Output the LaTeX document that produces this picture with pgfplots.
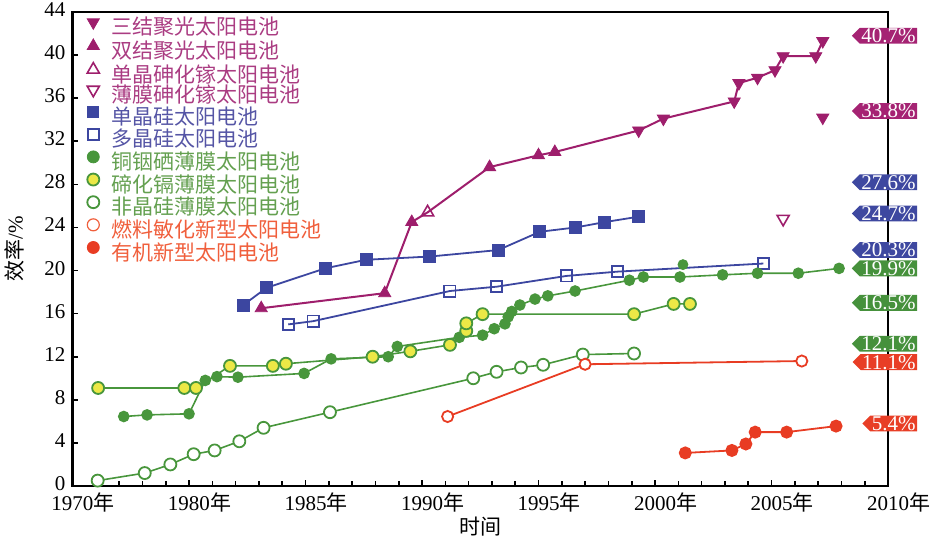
\documentclass[border=0pt]{standalone}
\usepackage{pgfplots}
\pgfplotsset{compat=1.18}
\usepackage{fontspec}
\setmainfont{Liberation Serif}
\newfontfamily\cjk{Noto Sans CJK SC}
\usetikzlibrary{shapes.symbols}

\definecolor{pur}{RGB}{158,30,108}
\definecolor{blu}{RGB}{60,70,160}
\definecolor{grn}{RGB}{72,150,60}
\definecolor{yel}{RGB}{236,232,70}
\definecolor{red1}{RGB}{232,60,35}
\definecolor{cpur}{RGB}{165,35,115}
\definecolor{cblu}{RGB}{62,72,160}
\definecolor{cgrn}{RGB}{70,145,60}
\definecolor{cred}{RGB}{232,62,38}
\definecolor{lpur}{RGB}{170,60,130}
\definecolor{lblu}{RGB}{85,85,165}
\definecolor{lgrn}{RGB}{100,160,80}
\definecolor{lred}{RGB}{240,95,60}

\newcommand{\nian}{\rlap{\cjk 年}}

\pgfplotsset{
  lgmark/.style={legend image code/.code={\path (0pt,0pt) (18pt,0pt); \draw[##1] plot coordinates {(10pt,3.6pt)};}},
}
\tikzset{
  mycall/.style={signal, signal to=west, signal from=nowhere, text=white, inner xsep=0.8pt, inner ysep=0.3pt, text height=7.1pt, text depth=0.2pt, font=\fontsize{10.5}{12}\selectfont, anchor=east},
}

\begin{document}
\begin{tikzpicture}[font=\fontsize{10.5}{12}\selectfont]
\begin{axis}[
  scale only axis, width=407.75pt, height=237pt,
  xmin=1975, xmax=2010, ymin=0, ymax=44,
  xtick={1975,1980,...,2010},
  xticklabels={1970\nian,1980\nian,1985\nian,1990\nian,1995\nian,2000\nian,2005\nian,2010\nian},
  minor x tick num=4,
  ytick={0,4,...,44},
  xtick pos=bottom, ytick pos=left,
  tick align=inside,
  major tick length=3pt, minor tick length=2.5pt,
  axis line style={line width=1.1pt},
  every tick/.style={black, line width=0.8pt},
  /pgf/number format/assume math mode=true,
  tick label style={font=\fontsize{10.5}{12}\selectfont},
  yticklabel style={yshift=1.2pt},
  xlabel={\cjk 时间}, ylabel={{\cjk 效率}/\%},
  xlabel style={at={(axis description cs:0.5,-0.0865)}, anchor=center},
  ylabel style={at={(axis description cs:-0.071,0.5)}, anchor=center},
  clip=false,
  legend style={at={(axis description cs:0,1)}, anchor=north west, yshift=-3.2pt, draw=none, fill=none,
    inner xsep=0pt, inner ysep=0pt, row sep=-0.45pt,
    font=\fontsize{10.5}{12}\selectfont\cjk,
    nodes={inner ysep=0.6pt, inner xsep=1pt, text height=7.3pt, text depth=1.85pt}},
  legend cell align=left,
]
% legend images
\addlegendimage{mark=triangle*, mark size=3.5pt, mark options={rotate=180, fill=pur, draw=pur}, lgmark}
\addlegendentry{\textcolor{lpur}{三结聚光太阳电池}}
\addlegendimage{mark=triangle*, mark size=3.5pt, mark options={fill=pur, draw=pur}, lgmark}
\addlegendentry{\textcolor{lpur}{双结聚光太阳电池}}
\addlegendimage{mark=triangle, mark size=3.5pt, mark options={fill=white, draw=pur, line width=0.8pt}, lgmark}
\addlegendentry{\textcolor{lpur}{单晶砷化镓太阳电池}}
\addlegendimage{mark=triangle, mark size=3.5pt, mark options={rotate=180, fill=white, draw=pur, line width=0.8pt}, lgmark}
\addlegendentry{\textcolor{lpur}{薄膜砷化镓太阳电池}}
\addlegendimage{mark=square*, mark size=2.8pt, mark options={fill=blu, draw=blu}, lgmark}
\addlegendentry{\textcolor{lblu}{单晶硅太阳电池}}
\addlegendimage{mark=square, mark size=2.8pt, mark options={fill=white, draw=blu, line width=0.9pt}, lgmark}
\addlegendentry{\textcolor{lblu}{多晶硅太阳电池}}
\addlegendimage{mark=*, mark size=3pt, mark options={fill=grn, draw=grn}, lgmark}
\addlegendentry{\textcolor{lgrn}{铜铟硒薄膜太阳电池}}
\addlegendimage{mark=*, mark size=3pt, mark options={fill=yel, draw=grn, line width=0.9pt}, lgmark}
\addlegendentry{\textcolor{lgrn}{碲化镉薄膜太阳电池}}
\addlegendimage{mark=*, mark size=3pt, mark options={fill=white, draw=grn, line width=0.9pt}, lgmark}
\addlegendentry{\textcolor{lgrn}{非晶硅薄膜太阳电池}}
\addlegendimage{mark=*, mark size=3pt, mark options={fill=white, draw=lred, line width=0.6pt}, lgmark}
\addlegendentry{\textcolor{lred}{燃料敏化新型太阳电池}}
\addlegendimage{mark=*, mark size=3pt, mark options={fill=red1, draw=red1}, lgmark}
\addlegendentry{\textcolor{lred}{有机新型太阳电池}}

% purple multi-junction line
\addplot[pur, line width=1pt, forget plot] coordinates {
(1983.1,16.5) (1988.4,17.9) (1989.56,24.5) (1990.24,25.4) (1992.9,29.6) (1995.0,30.7) (1995.7,31.0)
(1999.3,33.0) (2000.36,34.1) (2003.4,35.7) (2003.6,37.4) (2004.4,37.9) (2005.15,38.6) (2005.5,39.9)
(2006.9,39.9) (2007.2,41.3)};
% triple junction
\addplot[only marks, mark=triangle*, mark size=3.5pt, mark options={rotate=180, fill=pur, draw=pur}, forget plot] coordinates {
(1999.3,33.0) (2000.36,34.1) (2003.4,35.7) (2003.6,37.4) (2004.4,37.9) (2005.15,38.6) (2005.5,39.9)
(2006.9,39.9) (2007.2,41.3) (2007.2,34.2)};
% double junction
\addplot[only marks, mark=triangle*, mark size=3.5pt, mark options={fill=pur, draw=pur}, forget plot] coordinates {
(1983.1,16.5) (1988.4,17.9) (1989.56,24.5) (1992.9,29.6) (1995.0,30.7) (1995.7,31.0)};
% single crystal GaAs
\addplot[only marks, mark=triangle, mark size=3.5pt, mark options={fill=white, draw=pur, line width=0.8pt}, forget plot] coordinates {
(1990.24,25.4)};
% thin film GaAs
\addplot[only marks, mark=triangle, mark size=3.5pt, mark options={rotate=180, fill=white, draw=pur, line width=0.8pt}, forget plot] coordinates {
(2005.5,24.8)};

% single crystal Si
\addplot[blu, line width=0.9pt, mark=square*, mark size=2.8pt, mark options={fill=blu, draw=blu}, forget plot] coordinates {
(1982.33,16.8) (1983.33,18.4) (1985.84,20.2) (1987.6,21.0) (1990.34,21.3) (1993.27,21.9) (1995.06,23.6)
(1996.6,24.0) (1997.85,24.5) (1999.3,25.0)};
% multi crystal Si
\addplot[blu, line width=0.9pt, mark=square, mark size=2.8pt, mark options={fill=white, draw=blu, line width=0.9pt}, forget plot] coordinates {
(1984.26,15.0) (1985.33,15.3) (1991.2,18.1) (1993.2,18.5) (1996.2,19.5) (1998.4,19.9) (2004.65,20.65)};

% CIGS
\addplot[grn, line width=0.8pt, mark=*, mark size=2.5pt, mark options={fill=grn, draw=grn}, forget plot] coordinates {
(1977.2,6.45) (1978.2,6.6) (1980.0,6.7) (1980.7,9.8) (1981.2,10.15) (1982.1,10.1) (1984.94,10.45)
(1986.1,11.8) (1988.55,12.0) (1988.94,12.95) (1991.6,13.8) (1992.6,14.0) (1993.1,14.6) (1993.56,15.05)
(1993.7,15.7) (1993.85,16.2) (1994.2,16.8) (1994.85,17.35) (1995.4,17.65) (1996.57,18.1) (1998.9,19.1)
(1999.5,19.4) (2001.07,19.4) (2002.9,19.6) (2004.4,19.75) (2006.15,19.75) (2007.9,20.2)};
\addplot[only marks, mark=*, mark size=2.5pt, mark options={fill=grn, draw=grn}, forget plot] coordinates {
(2001.2,20.55)};

% CdTe
\addplot[grn, line width=0.8pt, mark=*, mark size=3pt, mark options={fill=yel, draw=grn, line width=0.9pt}, forget plot] coordinates {
(1976.1,9.1) (1979.8,9.1) (1980.3,9.1) (1981.76,11.15) (1983.6,11.15) (1984.16,11.35) (1987.88,12.0)
(1989.5,12.5) (1991.2,13.1) (1991.9,14.4) (1991.9,15.1) (1992.6,15.95) (1999.1,15.95) (2000.8,16.9)
(2001.5,16.9)};

% a-Si
\addplot[grn, line width=0.8pt, mark=*, mark size=3pt, mark options={fill=white, draw=grn, line width=0.9pt}, forget plot] coordinates {
(1976.08,0.5) (1978.1,1.2) (1979.2,2.0) (1980.2,2.95) (1981.1,3.3) (1982.16,4.15) (1983.2,5.4)
(1986.05,6.85) (1992.2,10.0) (1993.2,10.6) (1994.25,11.0) (1995.2,11.25) (1996.9,12.2) (1999.1,12.3)};

% dye sensitized
\addplot[red1, line width=0.9pt, mark=*, mark size=2.8pt, mark options={fill=white, draw=red1, line width=0.9pt}, forget plot] coordinates {
(1991.1,6.45) (1997.0,11.3) (2006.3,11.6)};

% organic
\addplot[red1, line width=0.9pt, mark=*, mark size=2.8pt, mark options={fill=red1, draw=red1}, forget plot] coordinates {
(2001.3,3.07) (2003.3,3.3) (2003.9,3.9) (2004.3,5.0) (2005.65,5.0) (2007.77,5.56)};

% callouts
\node[mycall, fill=cpur] at (axis cs:2011.27,41.8) {40.7\%};
\node[mycall, fill=cpur] at (axis cs:2011.27,34.8) {33.8\%};
\node[mycall, fill=cblu] at (axis cs:2011.27,28.2) {27.6\%};
\node[mycall, fill=cblu] at (axis cs:2011.27,25.3) {24.7\%};
\node[mycall, fill=cblu] at (axis cs:2011.27,21.9) {20.3\%};
\node[mycall, fill=cgrn] at (axis cs:2011.27,20.2) {19.9\%};
\node[mycall, fill=cgrn] at (axis cs:2011.27,17.0) {16.5\%};
\node[mycall, fill=cgrn] at (axis cs:2011.27,13.2) {12.1\%};
\node[mycall, fill=cred] at (axis cs:2011.27,11.5) {11.1\%};
\node[mycall, fill=cred] at (axis cs:2011.27,5.8) {5.4\%};
\end{axis}
\pgfresetboundingbox
\path[use as bounding box] ([xshift=-36.25pt,yshift=-29pt]current axis.south west) rectangle ([xshift=27pt,yshift=6pt]current axis.north east);
\end{tikzpicture}
\end{document}
